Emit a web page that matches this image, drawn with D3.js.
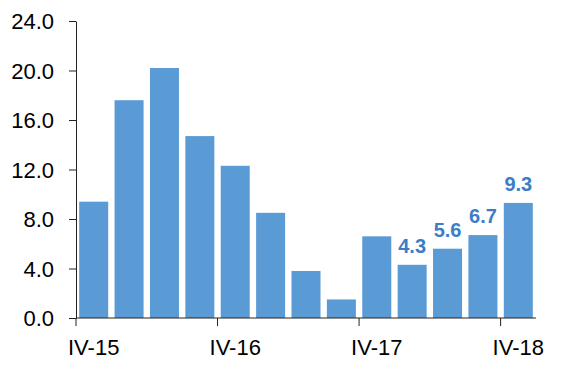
<!DOCTYPE html>
<html>
<head>
<meta charset="utf-8">
<script src="https://cdn.jsdelivr.net/npm/d3@7"></script>
<style>
  body { margin: 0; background: #fff; }
  text { font-family: "Liberation Sans", Arial, sans-serif; }
</style>
</head>
<body>
<script>
// quarters, IV-15 .. IV-18
const quarters = ['IV-15','I-16','II-16','III-16','IV-16','I-17','II-17','III-17','IV-17','I-18','II-18','III-18','IV-18'];
const values = [9.4, 17.6, 20.2, 14.7, 12.3, 8.5, 3.8, 1.5, 6.6, 4.3, 5.6, 6.7, 9.3];
const labelled = ['I-18','II-18','III-18','IV-18'];
const xTickLabels = ['IV-15','IV-16','IV-17','IV-18'];
const yTicks = [0, 4, 8, 12, 16, 20, 24];

let width = 561, height = 377;
let margin = {top: 21, right: 25, bottom: 59, left: 76};

let svg = d3.select('body').append('svg')
    .attr('width', width)
    .attr('height', height);

let x = d3.scaleBand()
    .domain(quarters)
    .range([margin.left, width - margin.right])
    .paddingInner(0.18)
    .paddingOuter(0.09);

let y = d3.scaleLinear()
    .domain([0, 24])
    .range([height - margin.bottom, margin.top]);

// bars
svg.append('g').selectAll('rect')
    .data(values)
    .enter()
    .append('rect')
    .attr('x', (d, i) => x(quarters[i]))
    .attr('y', d => y(d))
    .attr('width', x.bandwidth())
    .attr('height', d => y(0) - y(d))
    .attr('fill', '#5b9bd5');

// value labels on last four bars
svg.append('g').selectAll('text')
    .data(values.map((v, i) => ({q: quarters[i], v: v})).filter(d => labelled.includes(d.q)))
    .enter()
    .append('text')
    .attr('x', d => x(d.q) + x.bandwidth() / 2)
    .attr('y', d => y(d.v) - 12)
    .attr('text-anchor', 'middle')
    .attr('font-size', '20px')
    .attr('font-weight', 'bold')
    .attr('fill', '#3b7dc6')
    .text(d => d.v.toFixed(1));

// y axis
let yAxis = svg.append('g')
    .attr('transform', 'translate(' + margin.left + ',0)')
    .call(d3.axisLeft(y).tickValues(yTicks).tickFormat(d3.format('.1f')).tickSize(7).tickSizeOuter(0).tickPadding(15));
yAxis.selectAll('text').attr('font-size', '22px').attr('fill', '#000').attr('dy', '0.36em');
yAxis.selectAll('line, path').attr('stroke', '#222');

// x axis: ticks at left edge of every 4th band, labels centred on bars
let step = x.step();
let x0 = margin.left;
let xAxis = svg.append('g').attr('transform', 'translate(0,' + y(0) + ')');
xAxis.append('line')
    .attr('x1', margin.left).attr('x2', width - margin.right)
    .attr('stroke', '#222');
xAxis.selectAll('line.tick')
    .data(xTickLabels)
    .enter()
    .append('line')
    .attr('class', 'tick')
    .attr('x1', d => x(d) - x.paddingInner() * step / 2 - (d === 'IV-15' ? x.paddingOuter() * step - x.paddingInner() * step / 2 : 0))
    .attr('x2', d => x(d) - x.paddingInner() * step / 2 - (d === 'IV-15' ? x.paddingOuter() * step - x.paddingInner() * step / 2 : 0))
    .attr('y1', 0).attr('y2', 8)
    .attr('stroke', '#222');
xAxis.selectAll('text')
    .data(xTickLabels)
    .enter()
    .append('text')
    .attr('x', d => x(d) + x.bandwidth() / 2)
    .attr('y', 37)
    .attr('text-anchor', 'middle')
    .attr('font-size', '22px')
    .attr('fill', '#000')
    .text(d => d);
</script>
</body>
</html>
